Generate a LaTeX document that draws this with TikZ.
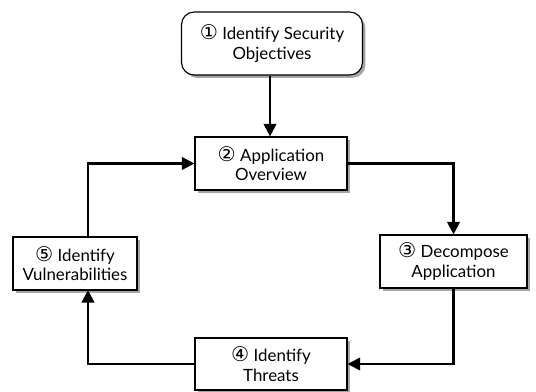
\documentclass[tikz,border=0pt]{standalone}
\usepackage{fontspec}
\setmainfont{Lato}
\newfontfamily\circfont{DejaVu Sans}
\usetikzlibrary{shadows,arrows.meta}
\tikzset{
  stepbox/.style={draw, line width=0.8pt, fill=white, align=center,
    font=\large, inner sep=2pt,
    drop shadow={shadow xshift=2pt, shadow yshift=-2pt, opacity=0.5, fill=black!70}},
  flow/.style={line width=1.5pt, -{Triangle[width=9pt,length=9pt]}}
}
\newcommand{\circnum}[1]{{\circfont\Large #1}}

\begin{document}
\begin{tikzpicture}[x=0.025cm, y=-0.025cm]
      \useasboundingbox (0,0) rectangle (536,392);
      \node[stepbox, rounded corners=9pt, minimum width=181*0.025cm, minimum height=63*0.025cm] (objectives) at (272,43.5) {\circnum{①} Identify Security\\Objectives};
      \node[stepbox, minimum width=152*0.025cm, minimum height=53*0.025cm] (overview) at (271,163.5) {\circnum{②} Application\\Overview};
      \node[stepbox, minimum width=147*0.025cm, minimum height=53*0.025cm] (decompose) at (453.5,261.5) {\circnum{③} Decompose\\Application};
      \node[stepbox, minimum width=152*0.025cm, minimum height=52*0.025cm] (threats) at (271,364) {\circnum{④} Identify\\Threats};
      \node[stepbox, minimum width=124*0.025cm, minimum height=53*0.025cm] (vulns) at (75,263.5) {\circnum{⑤} Identify\\Vulnerabilities};
      \coordinate (c5top) at (88,237);
      \coordinate (c5bot) at (88,290);
\draw[flow] (objectives.south -| 270,0) -- (overview.north -| 270,0);
\draw[flow] (overview.east) -| (decompose.north);
\draw[flow] (decompose.south) |- (threats.east);
\draw[flow] (threats.west) -| (c5bot);
\draw[flow] (c5top) |- (overview.west);
\end{tikzpicture}
\end{document}
